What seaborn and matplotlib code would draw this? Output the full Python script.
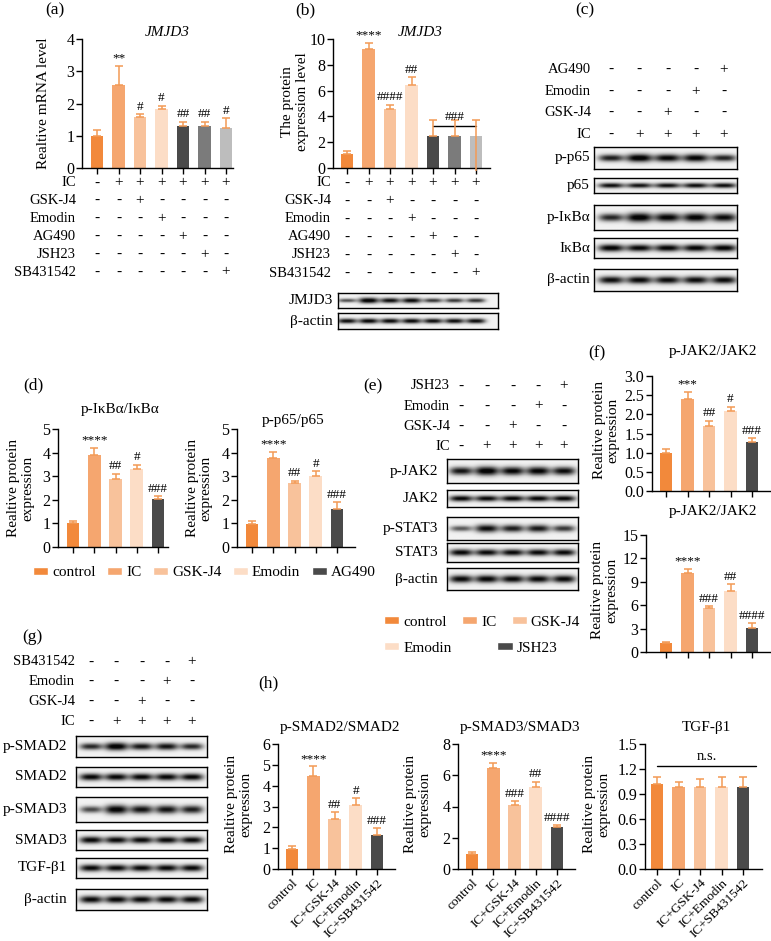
import numpy as np
import pandas as pd
import matplotlib
matplotlib.use("Agg")
import matplotlib.pyplot as plt
from matplotlib.patches import Patch
from matplotlib.ticker import FormatStrFormatter
import seaborn as sns

W, H = 771, 941

# colours of the treatment groups
colors7 = ["#F2893B", "#F5A66F", "#F8C29B", "#FCDDC6", "#4A4A4A", "#7B7B7B", "#BDBDBD"]
colors5 = ["#F2893B", "#F5A66F", "#F8C29B", "#FCDDC6", "#4A4A4A"]
err_color = "#F39A55"

groups7 = ["control", "IC", "GSK-J4", "Emodin", "AG490", "JSH23", "SB431542"]
treat_rows = ["IC", "GSK-J4", "Emodin", "AG490", "JSH23", "SB431542"]
treat_signs = ["-++++++", "--+----", "---+---", "----+--", "-----+-", "------+"]

# (a) JMJD3 mRNA
a_vals = [1.0, 2.58, 1.57, 1.83, 1.31, 1.31, 1.25]
a_err = [0.19, 0.59, 0.1, 0.1, 0.12, 0.12, 0.3]
a_marks = ["", "**", "#", "#", "##", "##", "#"]

# (b) JMJD3 protein
b_vals = [1.1, 9.2, 4.6, 6.4, 2.5, 2.45, 2.45]
b_err = [0.2, 0.5, 0.3, 0.65, 1.2, 1.25, 1.25]
b_low = [0, 0, 0, 0, 0, 0, 2.7]
b_marks = ["", "****", "####", "##", "", "", ""]
b_blot_rows = ["JMJD3", "β-actin"]
b_blot = [[0.45, 1.0, 0.85, 0.88, 0.6, 0.6, 0.62],
          [0.85, 0.9, 0.88, 0.88, 0.85, 0.86, 0.86]]

# (c) NF-kB blots
c_rows = ["AG490", "Emodin", "GSK-J4", "IC"]
c_signs = ["----+", "---+-", "--+--", "-++++"]
c_blot_rows = ["p-p65", "p65", "p-IκBα", "IκBα", "β-actin"]
c_blot = [[0.75, 1.0, 0.9, 0.92, 0.72],
          [0.85, 0.82, 0.84, 0.85, 0.85],
          [0.7, 1.0, 0.92, 0.94, 0.86],
          [0.95, 0.9, 0.92, 0.92, 0.93],
          [0.85, 0.88, 0.86, 0.86, 0.87]]

# (d) quantification
d_groups = ["control", "IC", "GSK-J4", "Emodin", "AG490"]
d1_vals = [1.0, 3.9, 2.89, 3.3, 2.04]
d1_err = [0.11, 0.29, 0.22, 0.19, 0.12]
d2_vals = [0.99, 3.76, 2.7, 3.01, 1.6]
d2_err = [0.11, 0.26, 0.11, 0.19, 0.29]
d_marks = ["", "****", "##", "#", "###"]

# (e) JAK/STAT blots
e_rows = ["JSH23", "Emodin", "GSK-J4", "IC"]
e_blot_rows = ["p-JAK2", "JAK2", "p-STAT3", "STAT3", "β-actin"]
e_blot = [[0.8, 1.0, 0.9, 0.92, 0.85],
          [0.9, 0.88, 0.9, 0.9, 0.9],
          [0.4, 0.85, 0.75, 0.78, 0.6],
          [0.9, 0.88, 0.88, 0.88, 0.88],
          [0.88, 0.9, 0.88, 0.88, 0.88]]
e_groups = ["control", "IC", "GSK-J4", "Emodin", "JSH23"]

# (f) quantification
f1_vals = [0.99, 2.41, 1.69, 2.09, 1.29]
f1_err = [0.11, 0.17, 0.14, 0.11, 0.08]
f1_marks = ["", "***", "##", "#", "###"]
f2_vals = [1.15, 10.1, 5.62, 7.84, 3.11]
f2_err = [0.13, 0.55, 0.26, 0.85, 0.55]
f2_marks = ["", "****", "###", "##", "####"]

# (g) SMAD blots
g_rows = ["SB431542", "Emodin", "GSK-J4", "IC"]
g_blot_rows = ["p-SMAD2", "SMAD2", "p-SMAD3", "SMAD3", "TGF-β1", "β-actin"]
g_blot = [[0.7, 1.0, 0.8, 0.82, 0.7],
          [0.9, 0.9, 0.9, 0.9, 0.9],
          [0.5, 0.95, 0.82, 0.82, 0.75],
          [0.9, 0.88, 0.88, 0.88, 0.88],
          [0.88, 0.88, 0.88, 0.88, 0.88],
          [0.88, 0.9, 0.88, 0.88, 0.88]]

# (h) quantification
h_groups = ["control", "IC", "IC+GSK-J4", "IC+Emodin", "IC+SB431542"]
h1_vals = [0.98, 4.45, 2.4, 3.07, 1.62]
h1_err = [0.11, 0.48, 0.32, 0.32, 0.33]
h1_marks = ["", "****", "##", "#", "###"]
h2_vals = [0.96, 6.46, 4.11, 5.25, 2.69]
h2_err = [0.11, 0.32, 0.22, 0.35, 0.12]
h2_marks = ["", "****", "###", "##", "####"]
h3_vals = [1.02, 0.98, 0.98, 0.98, 0.99]
h3_err = [0.08, 0.07, 0.1, 0.13, 0.11]

sns.set_theme(style="ticks")
plt.rcParams["font.family"] = ["Liberation Serif", "DejaVu Serif"]
plt.rcParams["axes.edgecolor"] = "black"
plt.rcParams["xtick.color"] = "black"
plt.rcParams["ytick.color"] = "black"
plt.rcParams["text.color"] = "black"

fig = plt.figure(figsize=(W / 100, H / 100), dpi=100)


def fx(x):
    return x / W


def fy(y):
    return 1 - y / H


def ftext(x, y, s, **kw):
    kw.setdefault("ha", "center")
    kw.setdefault("va", "center")
    kw.setdefault("fontsize", 11)
    fig.text(fx(x), fy(y), s, **kw)


def new_ax(left, top, right, bottom):
    return fig.add_axes([fx(left), fy(bottom), (right - left) / W, (bottom - top) / H])


def lane_lim(left, right, c0, c1, n):
    s = (c1 - c0) / (n - 1)
    return (-(c0 - left) / s, (n - 1) + (right - c1) / s)


def bar_panel(box, lanes, groups, vals, err, colors, ylim, yticks, marks=None,
              low=None, yfmt=None, xlabels=False):
    left, top, right, bottom = box
    ax = new_ax(*box)
    n = len(groups)
    df = pd.DataFrame({"grp": groups, "val": vals})
    sns.barplot(data=df, x="grp", y="val", hue="grp", order=groups, hue_order=groups,
                palette=colors, width=0.6, saturation=1, legend=False, linewidth=0, ax=ax)
    lo = low if low is not None else [0] * n
    eb = ax.errorbar(range(n), vals, yerr=[lo, err], fmt="none", ecolor=err_color,
                     elinewidth=1.1, capsize=2.6, capthick=1.1, zorder=3)
    for art in eb.lines[2]:
        art.set_clip_on(False)
    ax.set_xlim(*lane_lim(left, right, lanes[0], lanes[1], n))
    ax.set_ylim(*ylim)
    ax.set_yticks(yticks)
    if yfmt:
        ax.yaxis.set_major_formatter(FormatStrFormatter(yfmt))
    ax.set_xlabel("")
    ax.set_ylabel("")
    sns.despine(ax=ax)
    for sp in ["left", "bottom"]:
        ax.spines[sp].set_linewidth(1.0)
    ax.tick_params(axis="both", direction="out", length=4, width=1.0, labelsize=11.5, pad=1.5)
    ax.set_xticks(range(n))
    if xlabels:
        ax.set_xticklabels(groups, rotation=45, ha="right", rotation_mode="anchor", fontsize=9.6)
    else:
        ax.set_xticklabels([])
    if marks:
        for i, m in enumerate(marks):
            if m:
                ax.annotate(m, (i, vals[i] + err[i]), xytext=(0, 1.0), textcoords="offset points",
                            ha="center", va="bottom", fontsize=9.5)
    return ax


def sign_table(box, lanes, rows, signs, label_right):
    left, top, right, bottom = box
    ax = new_ax(*box)
    n = len(signs[0])
    ax.set_xlim(*lane_lim(left, right, lanes[0], lanes[1], n))
    ax.set_ylim(len(rows) - 0.5, -0.5)
    ax.axis("off")
    step = (bottom - top) / len(rows)
    for r, (name, row) in enumerate(zip(rows, signs)):
        for i, s in enumerate(row):
            ax.text(i, r, s, ha="center", va="center", fontsize=11)
        ftext(label_right, top + (r + 0.5) * step, name, ha="right", fontsize=10.5)
    return ax


def blot(box, lanes, intens, label, label_right, thick=1.0):
    left, top, right, bottom = box
    ax = new_ax(*box)
    n = len(intens)
    x0, x1 = lane_lim(left, right, lanes[0], lanes[1], n)
    xs = np.linspace(x0, x1, 300)
    ys = np.linspace(-1, 1, 40)
    X, Y = np.meshgrid(xs, ys)
    dark = np.zeros_like(X)
    for i, v in enumerate(intens):
        hw = 0.40 + 0.06 * v
        hh = (0.16 + 0.22 * v) * thick
        dark += (0.35 + 0.75 * v) * np.exp(-np.abs((X - i) / hw) ** 3) * np.exp(-(Y / hh) ** 2)
    img = 0.95 - 0.93 * np.clip(dark, 0, 1)
    ax.imshow(img, cmap="gray", vmin=0, vmax=1, extent=(x0, x1, -1, 1), aspect="auto",
              interpolation="bilinear")
    ax.set_xticks([])
    ax.set_yticks([])
    for sp in ax.spines.values():
        sp.set_linewidth(1.0)
        sp.set_color("black")
    ftext(label_right, (top + bottom) / 2, label, ha="right", fontsize=11)
    return ax


def row_legend(labels, colors, x, y, spacing):
    leg = fig.legend(handles=[Patch(facecolor=c, label=g) for c, g in zip(colors, labels)],
                     loc="center left", bbox_to_anchor=(fx(x), fy(y)), ncol=len(labels),
                     frameon=False, borderpad=0, borderaxespad=0, handlelength=1.0,
                     handleheight=0.5, handletextpad=0.25, columnspacing=spacing, fontsize=11)
    return leg


ylab = "Realtive protein\nexpression"

# ---------- (a)
bar_panel((82, 39, 233, 168), (97, 226), groups7, a_vals, a_err, colors7, (0, 4), [0, 1, 2, 3, 4], a_marks)
sign_table((82, 174, 233, 281), (97, 226), treat_rows, treat_signs, 76)
ftext(55, 10, "(a)", fontsize=12.5)
ftext(167, 32, "JMJD3", fontstyle="italic")
ftext(44, 103, "Realtive mRNA level", rotation=90)

# ---------- (b)
axb = bar_panel((333, 39, 490, 168), (347, 476), groups7, b_vals, b_err, colors7, (0, 10),
                [0, 2, 4, 6, 8, 10], b_marks, low=b_low)
axb.plot([4, 6], [3.25, 3.25], color="black", lw=1.0)
axb.text(5, 3.5, "###", ha="center", va="bottom", fontsize=9.5)
sign_table((333, 174, 490, 282), (347, 476), treat_rows, treat_signs, 331)
blot((338, 293, 498, 308), (347, 476), b_blot[0], b_blot_rows[0], 333, thick=1.0)
blot((338, 313, 498, 329), (347, 476), b_blot[1], b_blot_rows[1], 333, thick=0.9)
ftext(305, 10, "(b)", fontsize=12.5)
ftext(420, 32, "JMJD3", fontstyle="italic")
ftext(295, 102, "The protein\nexpression level", rotation=90)

# ---------- (c)
sign_table((594, 59, 737, 145), (611, 724), c_rows, c_signs, 591)
c_boxes = [(147, 169), (178, 193), (205, 230), (238, 258), (269, 291)]
for (t, b), lab, vals in zip(c_boxes, c_blot_rows, c_blot):
    blot((594, t, 737, b), (611, 724), vals, lab, 590)
ftext(585, 10, "(c)", fontsize=12.5)

# ---------- (d)
bar_panel((58, 429, 168, 547), (73, 158), d_groups, d1_vals, d1_err, colors5, (0, 5), range(6), d_marks)
bar_panel((237, 429, 355, 547), (252, 337), d_groups, d2_vals, d2_err, colors5, (0, 5), range(6), d_marks)
ftext(33, 385, "(d)", fontsize=12.5)
ftext(120, 410, "p-IκBα/IκBα")
ftext(293, 420, "p-p65/p65")
ftext(21, 488, ylab, rotation=90, linespacing=1.1)
ftext(199, 488, ylab, rotation=90, linespacing=1.1)
row_legend(d_groups, colors5, 33, 573, 0.75)

# ---------- (e)
sign_table((447, 376, 578, 456), (461, 564), e_rows, c_signs, 450)
e_boxes = [(459, 483), (490, 507), (517, 540), (543, 562), (568, 590)]
for (t, b), lab, vals in zip(e_boxes, e_blot_rows, e_blot):
    blot((447, t, 578, b), (461, 564), vals, lab, 438)
ftext(373, 386, "(e)", fontsize=12.5)
row_legend(e_groups[:3], colors5[:3], 384, 622, 1.0)
row_legend(e_groups[3:], colors5[3:], 384, 648, 3.0)

# ---------- (f)
bar_panel((652, 376, 770, 491), (666, 752), e_groups, f1_vals, f1_err, colors5, (0, 3),
          [0, 0.5, 1.0, 1.5, 2.0, 2.5, 3.0], f1_marks, yfmt="%.1f")
bar_panel((646, 535, 770, 652), (666, 752), e_groups, f2_vals, f2_err, colors5, (0, 15),
          [0, 3, 6, 9, 12, 15], f2_marks)
ftext(597, 353, "(f)", fontsize=12.5)
ftext(713, 352, "p-JAK2/JAK2")
ftext(713, 512, "p-JAK2/JAK2")
ftext(606, 430, ylab, rotation=90, linespacing=1.1)
ftext(605, 590, ylab, rotation=90, linespacing=1.1)

# ---------- (g)
sign_table((76, 652, 207, 731), (91, 192), g_rows, c_signs, 75)
g_boxes = [(736, 757), (767, 787), (797, 822), (830, 850), (858, 878), (889, 910)]
for (t, b), lab, vals in zip(g_boxes, g_blot_rows, g_blot):
    blot((76, t, 207, b), (91, 192), vals, lab, 67)
ftext(32, 637, "(g)", fontsize=12.5)

# ---------- (h)
bar_panel((278, 744, 395, 869), (292, 377), h_groups, h1_vals, h1_err, colors5, (0, 6),
          range(7), h1_marks, xlabels=True)
bar_panel((458, 744, 575, 869), (472, 557), h_groups, h2_vals, h2_err, colors5, (0, 8),
          [0, 2, 4, 6, 8], h2_marks, xlabels=True)
axh3 = bar_panel((645, 744, 762, 869), (657, 743), h_groups, h3_vals, h3_err, colors5, (0, 1.5),
                 [0, 0.3, 0.6, 0.9, 1.2, 1.5], None, yfmt="%.1f", xlabels=True)
axh3.plot([0, 4.6], [1.24, 1.24], color="black", lw=1.0)
axh3.text(2.3, 1.27, "n.s.", ha="center", va="bottom", fontsize=10.5)
ftext(268, 683, "(h)", fontsize=12.5)
ftext(340, 727, "p-SMAD2/SMAD2")
ftext(520, 727, "p-SMAD3/SMAD3")
ftext(706, 727, "TGF-β1")
ftext(239, 804, ylab, rotation=90, linespacing=1.1)
ftext(418, 804, ylab, rotation=90, linespacing=1.1)
ftext(597, 804, ylab, rotation=90, linespacing=1.1)

fig.savefig("out.png", dpi=100)
